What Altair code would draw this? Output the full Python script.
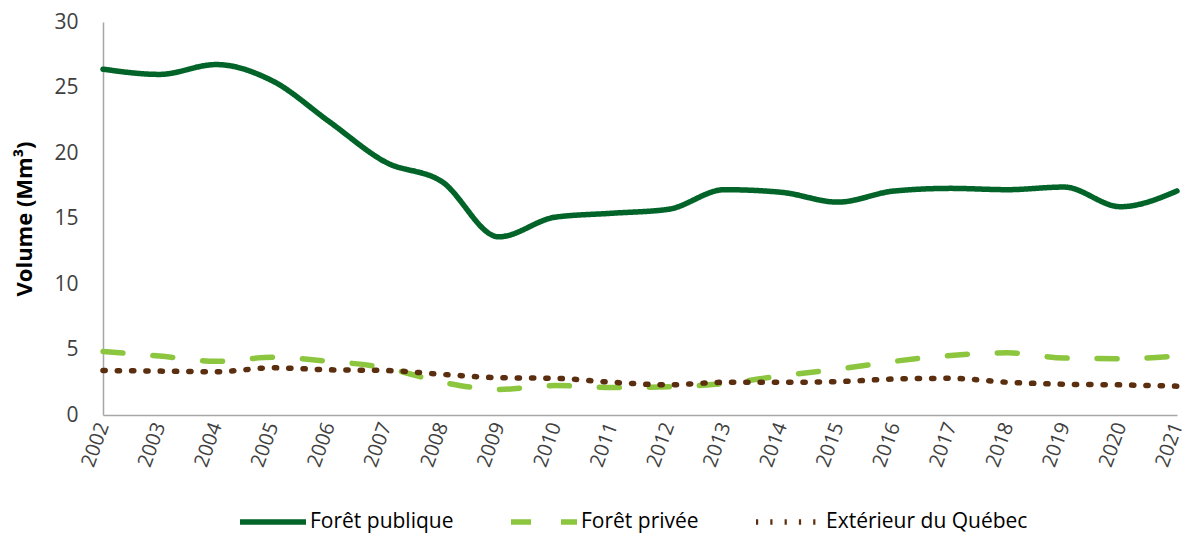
import altair as alt
import pandas as pd

years = list(range(2002, 2022))
publique = [26.4, 26.0, 26.75, 25.5, 22.4, 19.3, 17.8, 13.6, 15.1, 15.4, 15.7, 17.2, 17.0, 16.25, 17.1, 17.3, 17.2, 17.4, 15.9, 17.1]
privee = [4.85, 4.5, 4.1, 4.4, 4.1, 3.6, 2.5, 1.95, 2.25, 2.1, 2.15, 2.4, 3.0, 3.5, 4.1, 4.55, 4.75, 4.35, 4.3, 4.5]
exterieur = [3.4, 3.35, 3.3, 3.6, 3.45, 3.4, 3.1, 2.85, 2.8, 2.5, 2.3, 2.5, 2.5, 2.55, 2.75, 2.8, 2.5, 2.35, 2.3, 2.2]
series = ["Forêt publique", "Forêt privée", "Extérieur du Québec"]
colors = ["#036429", "#8CC63E", "#5A2E0E"]
dashes = [[1, 0], [20, 30], [2.2, 12.1]]

rows = []
for name, vals in zip(series, [publique, privee, exterieur]):
    for y, v in zip(years, vals):
        rows.append({"Année": str(y), "Volume": v, "Série": name})
df = pd.DataFrame(rows)

legend = alt.Legend(
    title=None, orient="none", direction="horizontal", legendX=134, legendY=464,
    symbolType="stroke", symbolSize=4356, symbolStrokeWidth=5.5,
    labelFontSize=21, labelColor="#000000", columnPadding=46, labelOffset=1, labelLimit=0,
)

chart = alt.Chart(df).mark_line(
    interpolate="monotone", strokeWidth=5.5, strokeCap="round"
).encode(
    x=alt.X("Année:O", scale=alt.Scale(type="point", padding=0),
            axis=alt.Axis(title=None, labelAngle=-70, labelFontSize=20, labelColor="#404040",
                          ticks=False, domainColor="#a6a6a6", domainWidth=1.5, labelPadding=8)),
    y=alt.Y("Volume:Q", scale=alt.Scale(domain=[0, 30]),
            axis=alt.Axis(title="Volume (Mm³)", values=[0, 5, 10, 15, 20, 25, 30], grid=False, ticks=False,
                          labelFontSize=21, labelColor="#404040", domainColor="#a6a6a6", domainWidth=1.5,
                          titleFontSize=22, titleFontWeight="bold", titleColor="#000000",
                          labelPadding=25, titlePadding=17)),
    color=alt.Color("Série:N", scale=alt.Scale(domain=series, range=colors), sort=series, legend=legend),
    strokeDash=alt.StrokeDash("Série:N", scale=alt.Scale(domain=series, range=dashes), sort=series,
                              legend=legend),
).properties(
    width=1074, height=393,
    autosize=alt.AutoSizeParams(type="none"),
    padding={"left": 95, "top": 14, "right": 12, "bottom": 121},
).configure(font="Open Sans").configure_view(stroke=None)

chart.save("out.html", embed_options={"renderer": "svg", "actions": False})
